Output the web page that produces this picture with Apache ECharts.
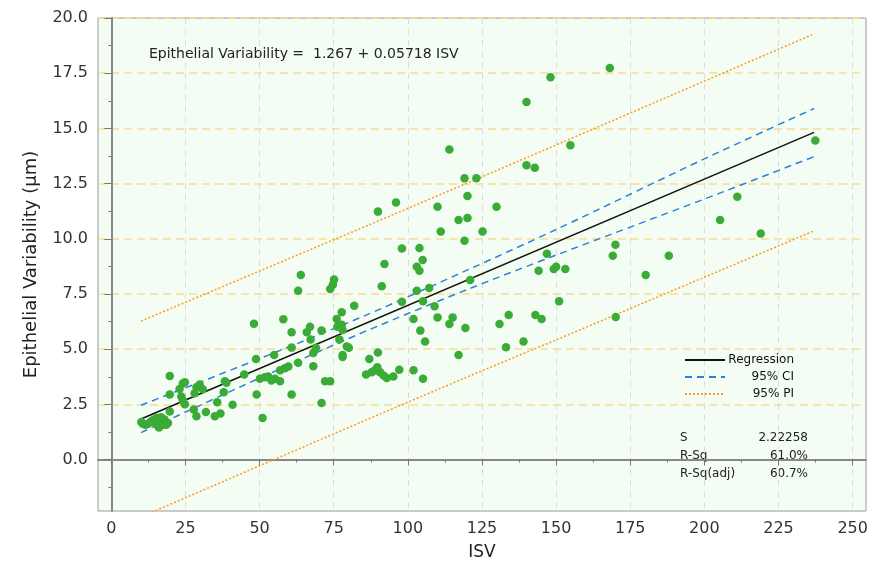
<!DOCTYPE html>
<html>
<head>
<meta charset="utf-8">
<script src="https://cdn.jsdelivr.net/npm/echarts@6/dist/echarts.min.js"></script>
<style>
  html, body { margin: 0; padding: 0; background: #fff; }
  #chart { width: 881px; height: 569px; }
</style>
</head>
<body>
<div id="chart"></div>
<script>
const isv = [
  10.1, 10.6, 11.5, 12.4, 13.3, 14.2, 14.8, 15.3, 15.8, 16.4, 16.8, 17.3, 17.9, 18.5, 19.1, 16.1,
  19.7, 19.7, 19.7, 23.0, 24.1, 24.8, 23.6, 24.1, 24.8,
  28.1, 28.7, 29.8, 30.8, 27.8, 28.7, 31.9, 34.9, 36.8, 35.7,
  37.9, 38.3, 38.8, 40.9, 44.8, 48.8, 49.0, 48.1, 51.0,
  50.1, 51.8, 52.9, 54.0, 55.2, 56.9, 54.9, 56.9, 58.5, 59.7,
  58.0, 60.8, 60.8, 60.8, 63.0, 63.0, 63.9,
  65.9, 67.0, 67.2, 68.1, 69.0, 68.1, 70.9, 70.9, 72.1, 73.8,
  73.8, 74.7, 75.1, 76.0, 77.7, 76.2, 77.7, 78.0, 76.9, 78.0, 78.0, 79.4, 80.1, 81.9,
  85.9, 87.8, 88.9, 89.7, 90.6, 91.8, 92.9, 95.1, 97.1,
  87.0, 89.9, 91.2, 92.1, 98.0, 98.0, 89.9, 96.0,
  101.9, 105.1, 101.9, 104.2, 105.8, 103.0, 107.2, 105.1, 109.0,
  103.9, 105.0, 103.0, 103.9,
  110.0, 115.1, 114.0, 119.4, 117.1, 110.0, 111.1, 114.0,
  117.1, 120.1, 119.1, 120.1, 119.1, 123.1, 121.0, 125.2, 129.9,
  130.9, 134.0, 133.1, 139.0, 140.0, 140.0, 142.8, 148.1,
  143.0, 145.1, 144.1, 146.9, 149.2, 150.0, 153.1, 151.0, 154.8,
  168.1, 170.0, 169.1, 170.1, 180.2, 188.0, 205.3, 211.1, 219.0, 237.4
];
const epiVar = [
  1.70, 1.62, 1.58, 1.62, 1.72, 1.80, 1.66, 1.88, 1.50, 1.76, 1.92, 1.58, 1.82, 1.58, 1.66, 1.45,
  3.78, 2.95, 2.18, 3.20, 3.45, 3.50, 2.86, 2.68, 2.50,
  3.00, 3.28, 3.40, 3.18, 2.27, 1.96, 2.15, 1.96, 2.09, 2.60,
  3.05, 3.55, 3.48, 2.48, 3.85, 4.56, 2.95, 6.15, 1.88,
  3.66, 3.73, 3.76, 3.58, 3.66, 3.55, 4.74, 4.04, 4.14, 4.22,
  6.36, 5.77, 5.07, 2.95, 4.38, 7.65, 8.36,
  5.77, 6.02, 5.44, 4.83, 5.06, 4.23, 5.84, 2.56, 3.55, 3.55,
  7.73, 7.92, 8.15, 6.37, 6.67, 6.02, 6.11, 5.87, 5.44, 4.74, 4.64, 5.12, 5.06, 6.97,
  3.85, 3.96, 4.04, 4.18, 3.96, 3.81, 3.69, 3.76, 4.07,
  4.56, 4.85, 7.85, 8.86, 9.56, 7.15, 11.23, 11.64,
  4.04, 3.66, 6.37, 5.84, 5.35, 7.65, 7.77, 7.17, 6.94,
  9.58, 9.04, 8.73, 8.55,
  6.44, 6.44, 6.14, 5.96, 4.74, 11.45, 10.33, 14.04,
  10.85, 10.94, 9.91, 11.94, 12.74, 12.74, 8.13, 10.33, 11.45,
  6.14, 6.55, 5.09, 5.35, 16.20, 13.33, 13.22, 17.32,
  6.55, 6.37, 8.55, 9.32, 8.63, 8.73, 8.63, 7.17, 14.24,
  17.74, 9.73, 9.23, 6.46, 8.36, 9.23, 10.85, 11.90, 10.24, 14.45
];

// fitted line and bands, read at a few ISV positions
const fitX = [10, 237];
const fitY = [1.84, 14.82];
const bandX = [10, 50, 85, 120, 150, 200, 237];
const ciUpper = [2.46, 4.57, 6.49, 8.58, 10.42, 13.62, 15.90];
const ciLower = [1.22, 3.69, 5.77, 7.70, 9.26, 11.80, 13.72];
const piUpper = [6.27, 8.54, 10.52, 12.52, 14.25, 17.14, 19.28];
const piLower = [-2.60, -0.28, 1.74, 3.74, 5.42, 8.26, 10.36];

// tick labels
const xTicks = [0, 25, 50, 75, 100, 125, 150, 175, 200, 225, 250];
const xMinor = [12.5, 37.5, 62.5, 87.5, 112.5, 137.5, 162.5, 187.5, 212.5, 237.5];
const yTicks = [0, 2.5, 5, 7.5, 10, 12.5, 15, 17.5, 20];
const yMinor = [-1.25, 1.25, 3.75, 6.25, 8.75, 11.25, 13.75, 16.25, 18.75];

const stats = [['S', '2.22258'], ['R-Sq', '61.0%'], ['R-Sq(adj)', '60.7%']];

const FONT = 'DejaVu Sans';
const zip = (a, b) => a.map((v, i) => [v, b[i]]);

const chart = echarts.init(document.getElementById('chart'));

const statTexts = [];
stats.forEach((s, i) => {
  statTexts.push({
    type: 'text', left: 680, top: 432 + i * 17.8,
    style: { text: s[0], font: '12px ' + FONT, fill: '#222' }
  });
  statTexts.push({
    type: 'text', right: 881 - 808, top: 432 + i * 17.8,
    style: { text: s[1], font: '12px ' + FONT, fill: '#222', textAlign: 'right' }
  });
});

chart.setOption({
  animation: false,
  textStyle: { fontFamily: FONT },
  grid: {
    left: 98, right: 15, top: 18, bottom: 58,
    show: true, backgroundColor: '#f3fdf3', borderColor: '#999', borderWidth: 1
  },
  xAxis: [{
    type: 'value', min: -4.5, max: 254.5,
    name: 'ISV', nameLocation: 'middle', nameGap: 33,
    nameTextStyle: { fontSize: 17, color: '#222' },
    axisLine: { lineStyle: { color: '#888', width: 2 } },
    axisTick: { customValues: xTicks, length: 6, lineStyle: { color: '#777' } },
    axisLabel: { customValues: xTicks, fontSize: 16, color: '#333', margin: 10 },
    splitLine: { show: true, lineStyle: { color: '#dcdcdc', type: [6, 5] } }
  }, {
    type: 'value', min: -4.5, max: 254.5, position: 'bottom',
    axisLine: { show: false },
    axisTick: { customValues: xMinor, length: 3, lineStyle: { color: '#777' } },
    axisLabel: { show: false }, splitLine: { show: false }
  }],
  yAxis: [{
    type: 'value', min: -2.33, max: 20,
    name: 'Epithelial Variability (µm)', nameLocation: 'middle', nameGap: 58,
    nameTextStyle: { fontSize: 18, color: '#222' },
    axisLine: { lineStyle: { color: '#888', width: 2 } },
    axisTick: { customValues: yTicks, length: 7, lineStyle: { color: '#777' } },
    axisLabel: {
      customValues: yTicks, fontSize: 16, color: '#333', margin: 10,
      formatter: v => v.toFixed(1)
    },
    splitLine: { show: true, lineStyle: { color: '#f8dc92', width: 1.5, type: [8, 5] } }
  }, {
    type: 'value', min: -2.33, max: 20, position: 'left',
    axisLine: { show: false },
    axisTick: { customValues: yMinor, length: 3, lineStyle: { color: '#777' } },
    axisLabel: { show: false }, splitLine: { show: false }
  }],
  legend: {
    data: ['Regression', '95% CI', '95% PI'],
    orient: 'vertical', left: 679, top: 349,
    itemWidth: 40, itemHeight: 10, itemGap: 5,
    itemStyle: { color: 'transparent', borderColor: 'transparent', borderWidth: 0 },
    formatter: name => '{r|' + name + '}',
    textStyle: {
      fontSize: 12, color: '#111',
      rich: { r: { width: 64, align: 'right', fontSize: 12, fontFamily: FONT, color: '#111' } }
    }
  },
  graphic: [{
    type: 'text', left: 149, top: 47,
    style: { text: 'Epithelial Variability =  1.267 + 0.05718 ISV', font: '14px ' + FONT, fill: '#222' }
  }].concat(statTexts),
  series: [
    {
      name: '95% PI', type: 'line', data: zip(bandX, piUpper), symbol: 'none',
      lineStyle: { color: '#ff9a1c', width: 1.5, type: [2, 2] }, itemStyle: { color: '#ff9a1c' }
    },
    {
      name: '95% PI', type: 'line', data: zip(bandX, piLower), symbol: 'none',
      lineStyle: { color: '#ff9a1c', width: 1.5, type: [2, 2] }, itemStyle: { color: '#ff9a1c' }
    },
    {
      name: '95% CI', type: 'line', data: zip(bandX, ciUpper), symbol: 'none', smooth: 0.3,
      lineStyle: { color: '#2f7fd8', width: 1.5, type: [7, 5] }, itemStyle: { color: '#2f7fd8' }
    },
    {
      name: '95% CI', type: 'line', data: zip(bandX, ciLower), symbol: 'none', smooth: 0.3,
      lineStyle: { color: '#2f7fd8', width: 1.5, type: [7, 5] }, itemStyle: { color: '#2f7fd8' }
    },
    {
      name: 'Regression', type: 'line', data: zip(fitX, fitY), symbol: 'none',
      lineStyle: { color: '#111', width: 1.5 }, itemStyle: { color: '#111' }
    },
    {
      name: 'Data', type: 'scatter', data: zip(isv, epiVar), symbolSize: 8.5, z: 5,
      itemStyle: { color: '#3aab36', opacity: 1 }
    }
  ]
});
</script>
</body>
</html>
